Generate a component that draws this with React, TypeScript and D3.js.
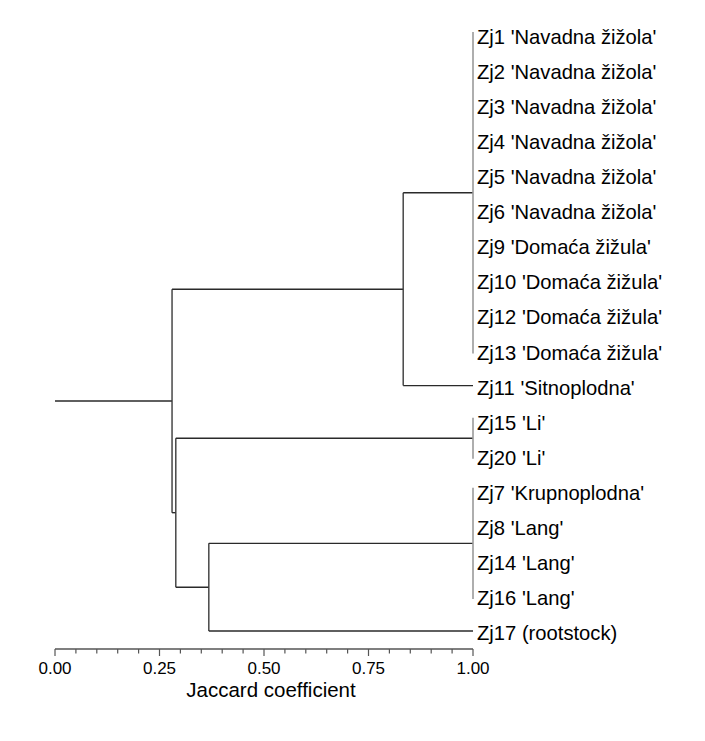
import React from "react";
import * as d3 from "d3";

// Leaf groups (identical profiles, similarity 1.00)
const navadnaDomaca = [
  "Zj1 'Navadna žižola'",
  "Zj2 'Navadna žižola'",
  "Zj3 'Navadna žižola'",
  "Zj4 'Navadna žižola'",
  "Zj5 'Navadna žižola'",
  "Zj6 'Navadna žižola'",
  "Zj9 'Domaća žižula'",
  "Zj10 'Domaća žižula'",
  "Zj12 'Domaća žižula'",
  "Zj13 'Domaća žižula'",
];
const sitnoplodna = ["Zj11 'Sitnoplodna'"];
const liGroup = ["Zj15 'Li'", "Zj20 'Li'"];
const langGroup = ["Zj7 'Krupnoplodna'", "Zj8 'Lang'", "Zj14 'Lang'", "Zj16 'Lang'"];
const rootstock = ["Zj17 (rootstock)"];

// Merge similarity levels (Jaccard coefficient)
const mergeRoot = 0.28;
const mergeUpper = 0.833;
const mergeLower = 0.289;
const mergeLangRootstock = 0.368;

const tickValues = d3.range(0, 21).map((i) => i * 0.05);
const majorTicks = [0, 0.25, 0.5, 0.75, 1.0];

type TNode = { height: number; leaves?: string[]; children?: TNode[]; y?: number };

const tree: TNode = {
  height: mergeRoot,
  children: [
    {
      height: mergeUpper,
      children: [
        { height: 1, leaves: navadnaDomaca },
        { height: 1, leaves: sitnoplodna },
      ],
    },
    {
      height: mergeLower,
      children: [
        { height: 1, leaves: liGroup },
        {
          height: mergeLangRootstock,
          children: [
            { height: 1, leaves: langGroup },
            { height: 1, leaves: rootstock },
          ],
        },
      ],
    },
  ],
};

export default function App() {
  const W = 705;
  const H = 741;
  const x = d3.scaleLinear().domain([0, 1]).range([55, 473]);

  const allLeaves: string[] = [];
  const collect = (n: TNode) => {
    if (n.leaves) allLeaves.push(...n.leaves);
    else n.children!.forEach(collect);
  };
  collect(tree);
  const y = d3.scaleLinear().domain([0, allLeaves.length - 1]).range([35, 631]);

  const idx = new Map(allLeaves.map((l, i) => [l, i]));
  const assignY = (n: TNode): number => {
    if (n.leaves) {
      const a = y(idx.get(n.leaves[0])!);
      const b = y(idx.get(n.leaves[n.leaves.length - 1])!);
      n.y = (a + b) / 2;
    } else {
      const ys = n.children!.map(assignY);
      n.y = (ys[0] + ys[ys.length - 1]) / 2;
    }
    return n.y!;
  };
  assignY(tree);

  const lines: React.ReactNode[] = [];
  let k = 0;
  const draw = (n: TNode) => {
    if (n.leaves) {
      if (n.leaves.length > 1) {
        const a = y(idx.get(n.leaves[0])!);
        const b = y(idx.get(n.leaves[n.leaves.length - 1])!);
        lines.push(
          <line key={k++} x1={x(1)} x2={x(1)} y1={a - 3} y2={b + 3} stroke="#9a9a9a" strokeWidth={1.6} />
        );
      }
      return;
    }
    const cs = n.children!;
    lines.push(
      <line key={k++} x1={x(n.height)} x2={x(n.height)} y1={cs[0].y} y2={cs[cs.length - 1].y} stroke="#3a3a3a" strokeWidth={1.4} />
    );
    cs.forEach((c) => {
      lines.push(
        <line key={k++} x1={x(n.height)} x2={x(c.height)} y1={c.y} y2={c.y} stroke="#2a2a2a" strokeWidth={1.4} />
      );
      draw(c);
    });
  };
  draw(tree);

  const font = "Arial, 'Liberation Sans', sans-serif";
  const axisY = 649;

  return (
    <svg width={W} height={H} style={{ position: "absolute", left: 0, top: 0, background: "#fff" }}>
      <rect x={0} y={0} width={W} height={H} fill="#fff" />
      <line x1={x(0)} x2={x(tree.height)} y1={tree.y} y2={tree.y} stroke="#2a2a2a" strokeWidth={1.4} />
      {lines}
      {allLeaves.map((l, i) => (
        <text key={l} x={x(1) + 4} y={y(i) + 9} fontFamily={font} fontSize={20.2} fill="#000">
          {l}
        </text>
      ))}
      <line x1={x(0)} x2={x(1)} y1={axisY} y2={axisY} stroke="#555" strokeWidth={1.3} />
      {tickValues.map((t, i) => {
        const major = majorTicks.some((m) => Math.abs(m - t) < 1e-6);
        return (
          <line key={i} x1={x(t)} x2={x(t)} y1={axisY} y2={axisY + (major ? 7 : 4.5)} stroke="#555" strokeWidth={1.2} />
        );
      })}
      {majorTicks.map((t) => (
        <text key={t} x={x(t)} y={674} textAnchor="middle" fontFamily={font} fontSize={17} fill="#000">
          {t.toFixed(2)}
        </text>
      ))}
      <text x={271} y={697} textAnchor="middle" fontFamily={font} fontSize={20.5} fill="#000">
        Jaccard coefficient
      </text>
    </svg>
  );
}
